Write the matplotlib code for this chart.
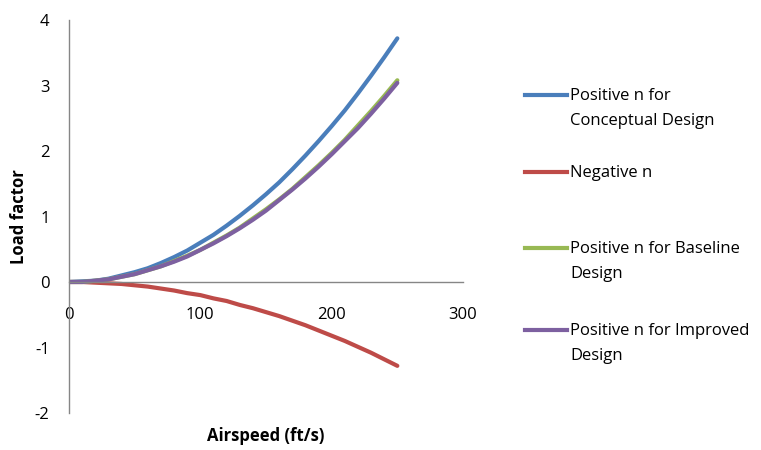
import matplotlib
matplotlib.use("Agg")
import matplotlib.pyplot as plt
from matplotlib.lines import Line2D

plt.rcParams["font.family"] = ["Open Sans", "DejaVu Sans"]
plt.rcParams["axes.unicode_minus"] = False

# airspeed (ft/s) and load factor
airspeed = [0, 10, 20, 30, 40, 50, 60, 70, 80, 90, 100, 110, 120,
            130, 140, 150, 160, 170, 180, 190, 200, 210, 220, 230, 240, 250]
n_conceptual = [0, 0.01, 0.02, 0.05, 0.10, 0.15, 0.21, 0.29, 0.38, 0.48, 0.60, 0.72, 0.86,
                1.01, 1.17, 1.34, 1.52, 1.72, 1.93, 2.15, 2.38, 2.62, 2.88, 3.15, 3.43, 3.72]
n_negative = [0, 0.00, -0.01, -0.02, -0.03, -0.05, -0.07, -0.10, -0.13, -0.17, -0.20, -0.25, -0.29,
              -0.35, -0.40, -0.46, -0.52, -0.59, -0.66, -0.74, -0.82, -0.90, -0.99, -1.08, -1.18, -1.28]
n_baseline = [0, 0.00, 0.02, 0.04, 0.08, 0.12, 0.18, 0.24, 0.32, 0.40, 0.49, 0.60, 0.71,
              0.83, 0.97, 1.11, 1.26, 1.42, 1.60, 1.78, 1.97, 2.17, 2.39, 2.61, 2.84, 3.08]
n_improved = [0, 0.00, 0.02, 0.04, 0.08, 0.12, 0.18, 0.24, 0.31, 0.39, 0.49, 0.59, 0.70,
              0.82, 0.95, 1.09, 1.25, 1.41, 1.58, 1.76, 1.95, 2.15, 2.35, 2.57, 2.80, 3.04]

series = [
    ("Positive n for\nConceptual Design", n_conceptual, "#4a7ebb"),
    ("Negative n", n_negative, "#be4b48"),
    ("Positive n for Baseline\nDesign", n_baseline, "#98b954"),
    ("Positive n for Improved\nDesign", n_improved, "#7d60a0"),
]

fig = plt.figure(figsize=(7.61, 4.5), dpi=100)
ax = fig.add_axes([69 / 761, 1 - 413 / 450, 394 / 761, 393 / 450])

for label, vals, c in series:
    ax.plot(airspeed, vals, color=c, lw=3, solid_capstyle="round",
            solid_joinstyle="round", label=label)

ax.set_xlim(0, 300)
ax.set_ylim(-2, 4)
ax.set_xticks([0, 100, 200, 300])
ax.set_yticks(range(-2, 5))
for s in ("top", "right"):
    ax.spines[s].set_visible(False)
ax.spines["bottom"].set_position(("data", 0))
for s in ("left", "bottom"):
    ax.spines[s].set_color("#868686")
    ax.spines[s].set_linewidth(1)
ax.tick_params(axis="both", length=0, labelsize=12, colors="black")
ax.tick_params(axis="x", pad=18)
ax.tick_params(axis="y", pad=14)

ax.set_xlabel("Airspeed (ft/s)", fontsize=12, fontweight="bold")
ax.set_ylabel("Load factor", fontsize=12, fontweight="bold")
ax.xaxis.set_label_coords(0.5, -0.035)
ax.yaxis.set_label_coords(-0.105, 0.5)

# Excel-style legend: equal slots, handle on the first text line
slot_y = [95, 172, 248, 330]
for (label, _, c), y in zip(series, slot_y):
    fy = 1 - y / 450
    fig.add_artist(Line2D([525 / 761, 567 / 761], [fy, fy], color=c, lw=3,
                          transform=fig.transFigure))
    fig.text(570 / 761, fy + 7 / 450, label, fontsize=12, va="top", ha="left",
             linespacing=1.75)

fig.savefig("out.png", dpi=100)
